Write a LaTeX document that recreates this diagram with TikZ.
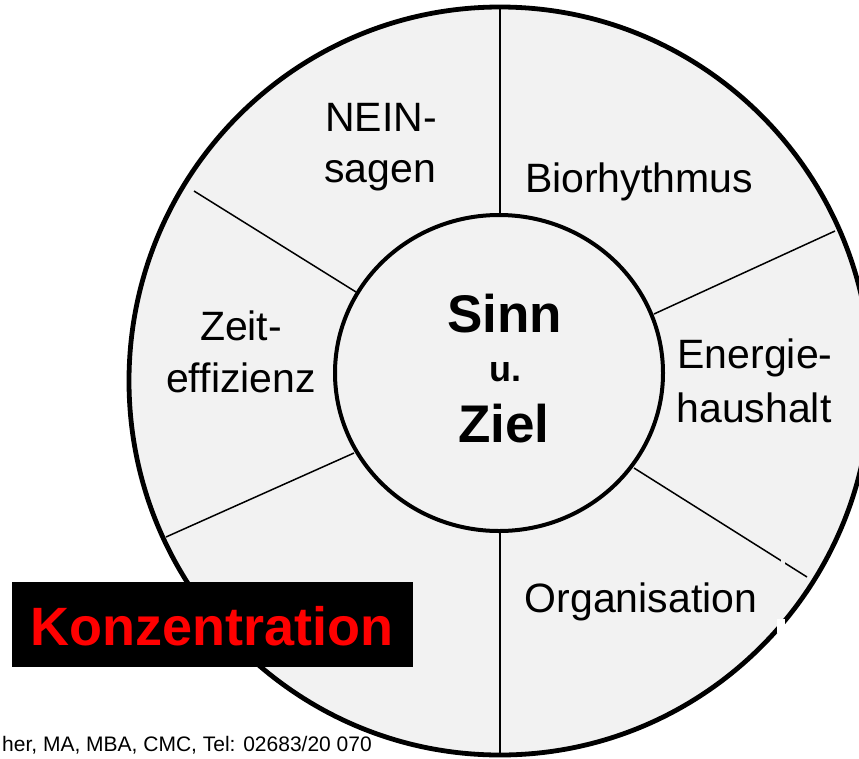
\documentclass[tikz,border=0pt]{standalone}
\usepackage{fontspec}
\setmainfont{Liberation Sans}
\definecolor{ringgray}{HTML}{F2F2F2}
\definecolor{konzred}{HTML}{FF0000}
\tikzset{
  lbl/.style={anchor=base, inner sep=0pt, font=\fontsize{41}{48}\selectfont},
  ctr/.style={anchor=base, inner sep=0pt, font=\fontsize{53}{60}\selectfont\bfseries},
  divider/.style={line width=1.5pt, black},
}
\begin{document}
\begin{tikzpicture}[x={(1pt,0)}, y={(0,-1pt)}]
\useasboundingbox (0,0) rectangle (859,758);
% outer ring
\draw[fill=ringgray, line width=4.8pt] (500,381) ellipse [x radius=371pt, y radius=374pt];
% divider lines
\coordinate (t1) at (500,215); \coordinate (t2) at (500,7);
\coordinate (b1) at (500,530); \coordinate (b2) at (500,755);
\coordinate (ul1) at (356,292); \coordinate (ul2) at (194,191);
\coordinate (ur1) at (654,314); \coordinate (ur2) at (835,231);
\coordinate (ll1) at (354,453); \coordinate (ll2) at (166,537);
\coordinate (lr1) at (634,468); \coordinate (lr2) at (807,577);
\draw[divider] (t1) -- (t2);
\draw[divider] (b1) -- (b2);
\draw[divider] (ul1) -- (ul2);
\draw[divider] (ur1) -- (ur2);
\draw[divider] (ll1) -- (ll2);
\draw[divider] (lr1) -- (lr2);
% inner circle
\draw[fill=ringgray, line width=4pt] (499,373) ellipse [x radius=164pt, y radius=158pt];
% small notches
\fill[ringgray] (781,555) rectangle (785,568);
\fill[white] (777,619) rectangle (785,633);
% segment labels
\node[lbl] (nein) at (381,131) {NEIN-};
\node[lbl] (sagen) at (380,182) {sagen};
\node[lbl] (bio) at (639,192) {Biorhythmus};
\node[lbl] (zeit) at (241,340) {Zeit-};
\node[lbl] (eff) at (241,392) {effizienz};
\node[lbl] (energie) at (755,368) {Energie-};
\node[lbl] (haus) at (754,422) {haushalt};
\node[lbl] (org) at (641,612) {Organisation};
% centre
\node[ctr] (sinn) at (504.5,332) {Sinn};
\node[anchor=base, inner sep=0pt, font=\fontsize{36}{40}\selectfont\bfseries] (und) at (505,381) {u.};
\node[ctr] (ziel) at (504,442) {Ziel};
% Konzentration box
\fill[black] (12,582) rectangle (413,667);
\node[anchor=base, inner sep=0pt, text=konzred, font=\fontsize{54}{60}\selectfont\bfseries] (konz) at (212,645) {Konzentration};
% footer
\node[anchor=base east, inner sep=0pt, font=\fontsize{21}{24}\selectfont] (footer) at (372,751) {her, MA, MBA, CMC, Tel: 02683/20 070};
\end{tikzpicture}
\end{document}
